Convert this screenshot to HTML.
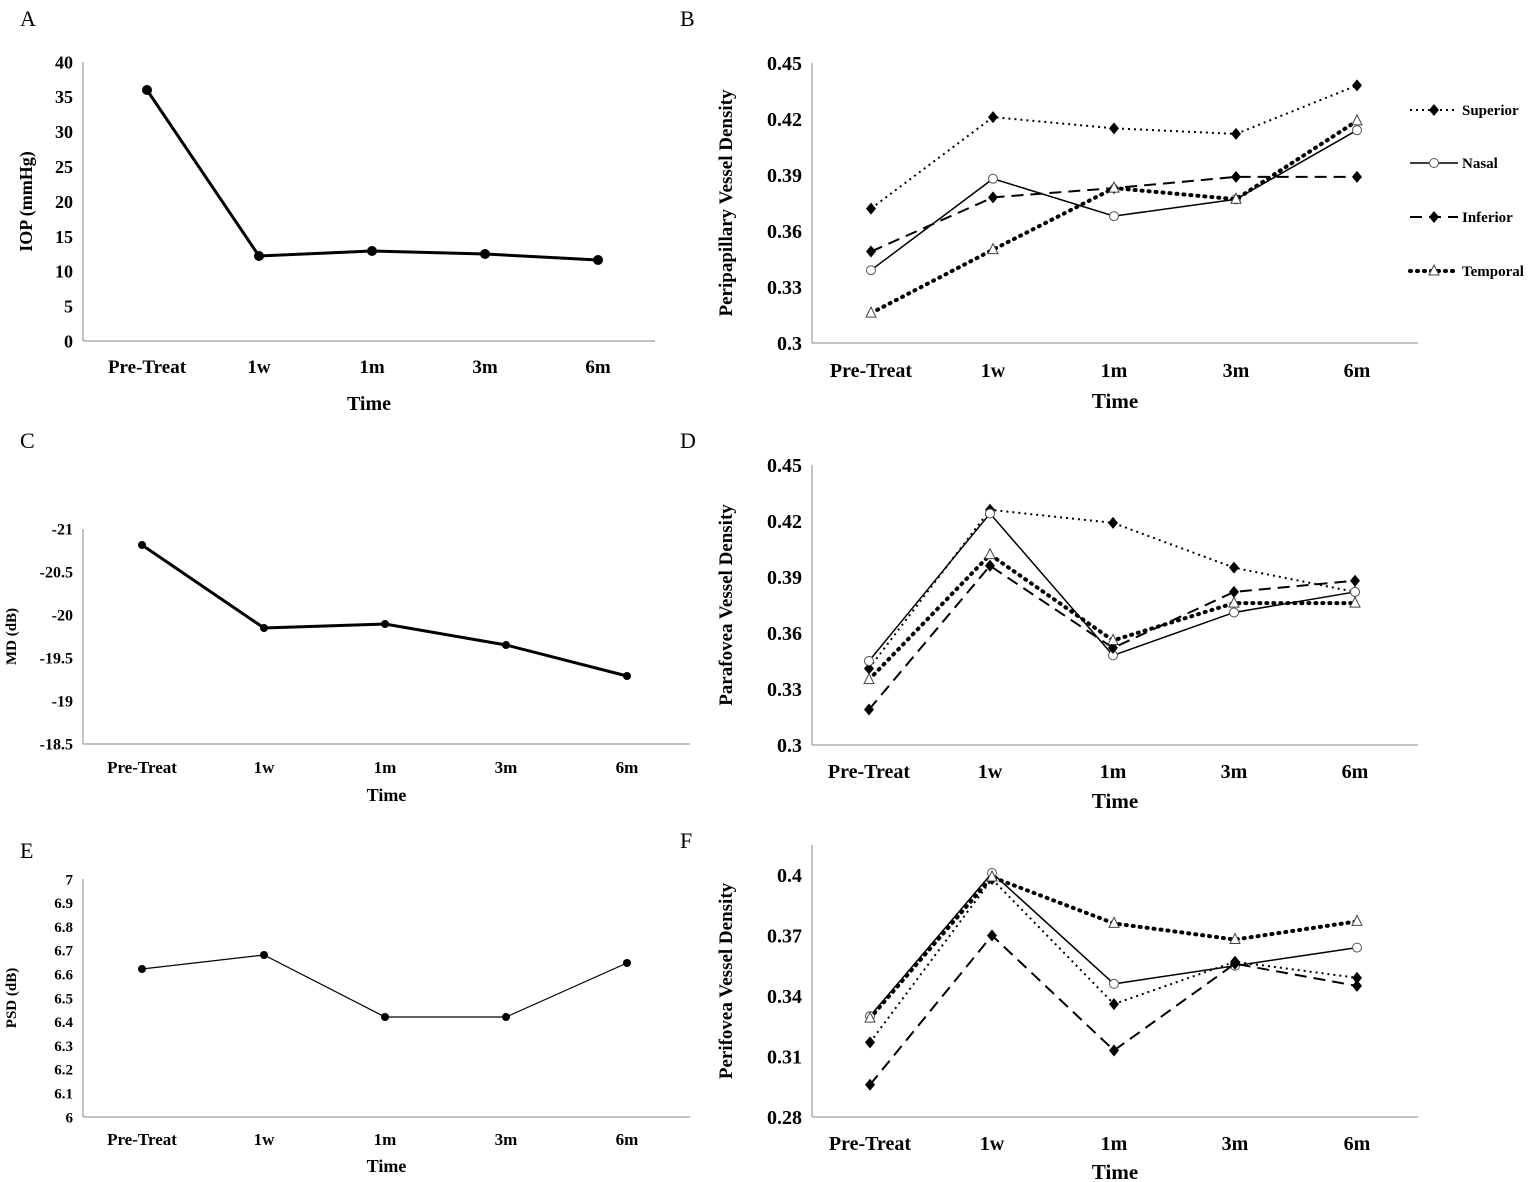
<!DOCTYPE html><html><head><style>body{margin:0;background:#fff}svg{display:block;font-family:"Liberation Serif",serif;font-weight:bold}</style></head><body>
<svg id="s" width="1535" height="1182" xmlns="http://www.w3.org/2000/svg"></svg>
<script>
const s=document.getElementById('s');let h='';
function T(x,y,t,sz,anc,rot){h+=`<text x="${x}" y="${y}" font-size="${sz}" text-anchor="${anc||'middle'}"${rot?` transform="rotate(-90 ${x} ${y})"`:''}>${t}</text>`}
function L(x1,y1,x2,y2,w,c){h+=`<line x1="${x1}" y1="${y1}" x2="${x2}" y2="${y2}" stroke="${c||'#000'}" stroke-width="${w||1}"/>`}
const cats=['Pre-Treat','1w','1m','3m','6m'];
function axes(ax,top,bot,right,xs,ticks,tsz,csz,cy,timeY,tmsz,ylab,ylx,lsz){
 L(ax,top,ax,bot,1,'#888');L(ax,bot,right,bot,1,'#888');
 ticks.forEach(([v,y])=>{T(ax-10,y+tsz*0.35,v,tsz,'end');});
 xs.forEach((x,i)=>T(x,cy,cats[i],csz));
 T((ax+right)/2,timeY,'Time',tmsz);
 T(ylx,(top+bot)/2,ylab,lsz,'middle',1);
}
function line(xs,ys,style,mk,w){
 let d=xs.map((x,i)=>(i?'L':'M')+x+' '+ys[i]).join('');
 let da=style=='dot'?'2 4':style=='tdot'?'1 6':style=='dash'?'12 7':'';
 let sw=style=='tdot'?4:(w||2);
 h+=`<path d="${d}" fill="none" stroke="#000" stroke-width="${sw}" ${da?`stroke-dasharray="${da}"`:''} stroke-linecap="${style=='tdot'?'round':'butt'}"/>`;
 xs.forEach((x,i)=>mark(x,ys[i],mk));
}
function mark(x,y,mk){
 if(mk=='d')h+=`<path d="M${x} ${y-6}L${x+5} ${y}L${x} ${y+6}L${x-5} ${y}Z" fill="#000"/>`;
 else if(mk=='c')h+=`<circle cx="${x}" cy="${y}" r="4.5" fill="#fff" stroke="#555" stroke-width="1"/>`;
 else if(mk=='t')h+=`<path d="M${x} ${y-6}L${x+5} ${y+4}L${x-5} ${y+4}Z" fill="#fff" stroke="#444" stroke-width="1"/>`;
 else if(mk=='b')h+=`<circle cx="${x}" cy="${y}" r="5" fill="#000"/>`;
 else if(mk=='s')h+=`<circle cx="${x}" cy="${y}" r="4" fill="#000"/>`;
}
// letters
T(20,26,'A',22,'start');T(680,26,'B',22,'start');T(20,448,'C',22,'start');T(680,448,'D',22,'start');T(20,858,'E',22,'start');T(680,848,'F',22,'start');
h=h.replace(/font-size="22"/g,'font-size="22" font-weight="normal"');
// A
let xa=[147,259,372,485,598];
axes(83,62,341,655,xa,[40,35,30,25,20,15,10,5,0].map((v,i)=>[v,62+i*34.9]),18,19,373,410,20,'IOP (mmHg)',32,18);
line(xa,[90,256,251,254,260],'solid','b',3);
// B
let xb=[871,993,1114,1236,1357];
let yB=v=>343-(v-0.3)/0.15*280;
axes(812,63,343,1418,xb,['0.45','0.42','0.39','0.36','0.33','0.3'].map((v,i)=>[v,63+i*56]),20,20,377,408,21,'Peripapillary Vessel Density',732,19);
line(xb,[.372,.421,.415,.412,.438].map(yB),'dot','d');
line(xb,[.339,.388,.368,.377,.414].map(yB),'solid','c',1.5);
line(xb,[.349,.378,.383,.389,.389].map(yB),'dash','d');
line(xb,[.316,.350,.383,.377,.419].map(yB),'tdot','t');
// legend
[[110,'Superior','dot','d'],[163,'Nasal','solid','c'],[217,'Inferior','dash','d'],[271,'Temporal','tdot','t']].forEach(([y,n,st,mk])=>{
 line([1410,1458],[y,y],st,'',st=='solid'?1.5:2);mark(1434,y,mk);T(1462,y+5,n,15,'start');});
// C
let xc=[142,264,385,506,627];
axes(83,529,744,690,xc,['-21','-20.5','-20','-19.5','-19','-18.5'].map((v,i)=>[v,529+i*43]),16,17,773,801,18,'MD (dB)',16,15);
line(xc,[545,628,624,645,676],'solid','s',3);
// D
let xd=[869,990,1113,1234,1355];
let yD=v=>745-(v-0.3)/0.15*280;
axes(812,465,745,1418,xd,['0.45','0.42','0.39','0.36','0.33','0.3'].map((v,i)=>[v,465+i*56]),20,20,778,808,21,'Parafovea Vessel Density',732,19);
line(xd,[.341,.426,.419,.395,.382].map(yD),'dot','d');
line(xd,[.345,.424,.348,.371,.382].map(yD),'solid','c',1.5);
line(xd,[.319,.396,.352,.382,.388].map(yD),'dash','d');
line(xd,[.335,.402,.356,.376,.376].map(yD),'tdot','t');
// E
axes(83,879,1117,690,xc,['7','6.9','6.8','6.7','6.6','6.5','6.4','6.3','6.2','6.1','6'].map((v,i)=>[v,879+i*23.8]),15,17,1145,1172,18,'PSD (dB)',16,15);
line(xc,[969,955,1017,1017,963],'solid','s',1.2);
// F
let xf=[870,992,1114,1235,1357];
let yF=v=>1117-(v-0.28)/0.12*242;
axes(812,845,1117,1418,xf,['0.4','0.37','0.34','0.31','0.28'].map((v,i)=>[v,875+i*60.5]),20,20,1150,1179,21,'Perifovea Vessel Density',732,19);
line(xf,[.317,.398,.336,.357,.349].map(yF),'dot','d');
line(xf,[.330,.401,.346,.355,.364].map(yF),'solid','c',1.5);
line(xf,[.296,.370,.313,.356,.345].map(yF),'dash','d');
line(xf,[.329,.399,.376,.368,.377].map(yF),'tdot','t');
s.innerHTML=h;
</script>
</body></html>
